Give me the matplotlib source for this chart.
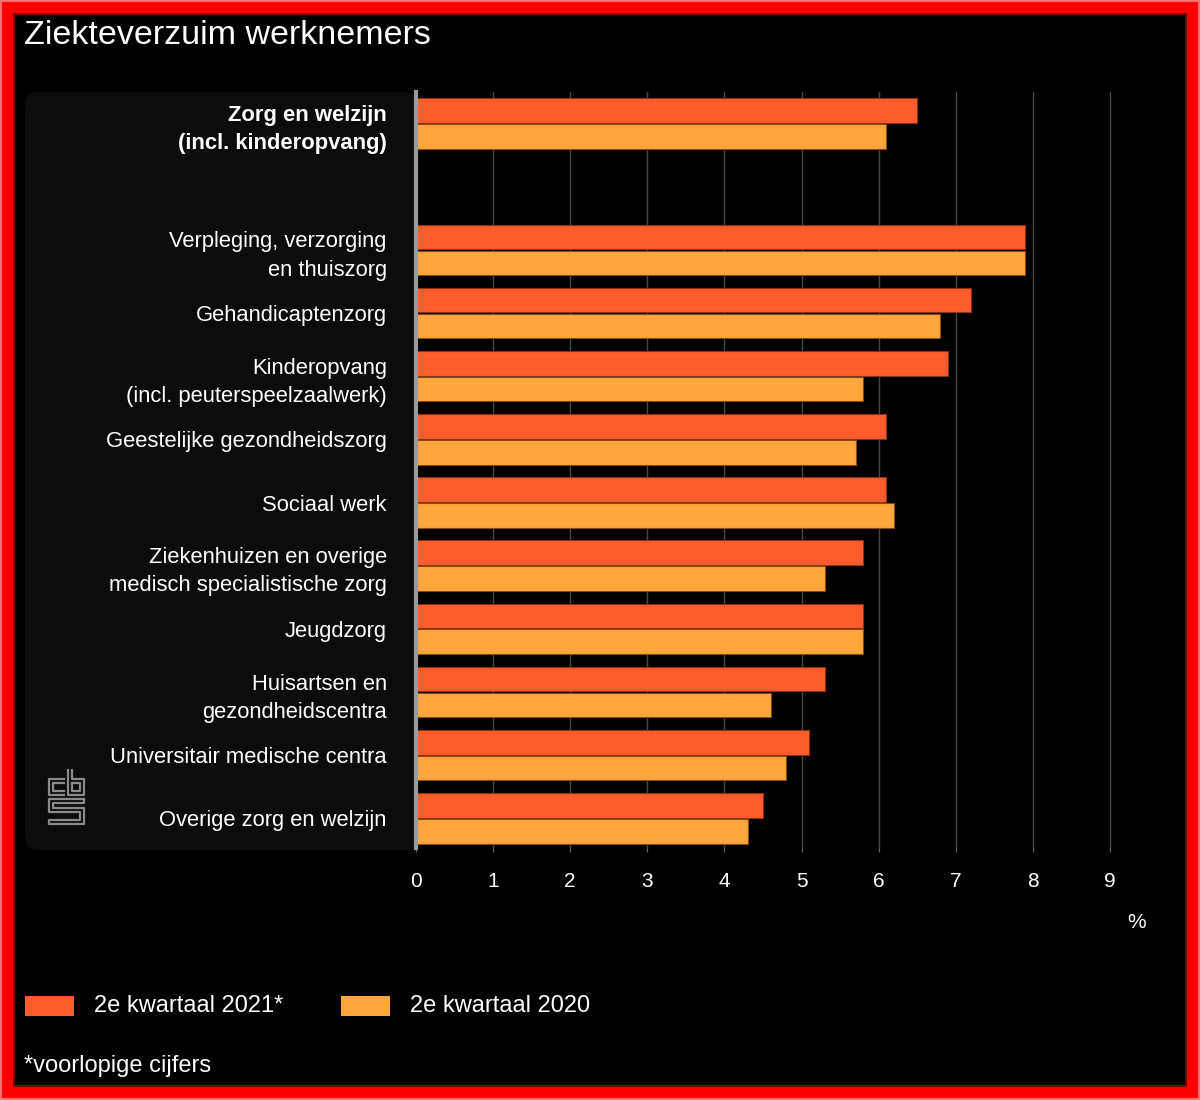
import matplotlib.pyplot as plt
from matplotlib.patches import FancyBboxPatch, Rectangle
from matplotlib.lines import Line2D
import numpy as np

# Data
Categories = ['Zorg en welzijn\n(incl. kinderopvang)',
              'Verpleging, verzorging\nen thuiszorg',
              'Gehandicaptenzorg',
              'Kinderopvang\n(incl. peuterspeelzaalwerk)',
              'Geestelijke gezondheidszorg',
              'Sociaal werk',
              'Ziekenhuizen en overige\nmedisch specialistische zorg',
              'Jeugdzorg',
              'Huisartsen en\ngezondheidscentra',
              'Universitair medische centra',
              'Overige zorg en welzijn']
Q2_2021 = [6.5, 7.9, 7.2, 6.9, 6.1, 6.1, 5.8, 5.8, 5.3, 5.1, 4.5]
Q2_2020 = [6.1, 7.9, 6.8, 5.8, 5.7, 6.2, 5.3, 5.8, 4.6, 4.8, 4.3]
SeriesLabels = ['2e kwartaal 2021*', '2e kwartaal 2020']
XTicks = list(range(0, 10))

Col2021 = '#FF5C2E'
Col2020 = '#FFA73F'
FONT = ['Liberation Sans', 'DejaVu Sans']

W, H = 1200, 1100
fig = plt.figure(figsize=(12, 11), dpi=100, facecolor='black')


def px(x, y):
    return x / W, 1 - y / H


# red frame
fig.patches.append(Rectangle((0, 0), 1, 1, transform=fig.transFigure, facecolor='#ff0000',
                             edgecolor='#ff7070', linewidth=3, zorder=-10))
fig.patches.append(Rectangle(px(14, 1086), 1172 / W, 1072 / H, transform=fig.transFigure,
                             facecolor='black', edgecolor='#7a0000', linewidth=1.5, zorder=-9))

# dark panel behind labels
x0, y0 = px(25, 850)
fig.patches.append(FancyBboxPatch((x0, y0), 392 / W, 758 / H, transform=fig.transFigure,
                                  boxstyle='round,pad=0,rounding_size=0.012',
                                  facecolor='#0c0c0c', edgecolor='none', zorder=-5))

# cbs logo (decoration)
logo = [
    [(64, 779), (49, 779), (49, 795), (64, 795)],
    [(64, 783), (53, 783), (53, 791), (64, 791)],
    [(68, 770), (68, 795), (84, 795), (84, 779), (72, 779), (72, 770)],
    [(72, 783), (80, 783), (80, 791), (72, 791), (72, 783)],
    [(84, 799), (49, 799), (49, 812), (80, 812), (80, 820), (49, 820), (49, 824), (84, 824),
     (84, 808), (53, 808), (53, 803), (84, 803), (84, 799)],
]
for path in logo:
    xs = [p[0] / W for p in path]
    ys = [1 - p[1] / H for p in path]
    fig.lines.append(Line2D(xs, ys, transform=fig.transFigure, color='#8a8a8a', linewidth=1.6))

ax = fig.add_axes([416 / W, 1 - 848 / H, (1110 - 416) / W, (848 - 92) / H])
ax.set_facecolor('none')

Pos = np.array([0] + list(range(2, 12)), dtype=float)
h = 0.39
ax.barh(Pos - 0.205, Q2_2021, height=h, color=Col2021, edgecolor='#8a3510', linewidth=0.8, zorder=3)
ax.barh(Pos + 0.205, Q2_2020, height=h, color=Col2020, edgecolor='#8a4a10', linewidth=0.8, zorder=3)

ax.set_xlim(0, 9)
ax.set_ylim(11.47, -0.5)
ax.set_xticks(XTicks)
ax.set_xticklabels([str(t) for t in XTicks], color='white', fontsize=15, family=FONT)
ax.tick_params(axis='x', length=3, color='#666666', pad=14)
ax.grid(axis='x', color='#484848', linewidth=1, zorder=0)
for gl in ax.get_xgridlines():
    gl.set_clip_on(False)

ax.set_yticks(Pos)
ax.set_yticklabels(Categories, color='white', fontsize=15.8, family=FONT, linespacing=1.45)
ax.tick_params(axis='y', length=0, pad=21)
ax.get_yticklabels()[0].set_fontweight('bold')

for s in ['top', 'right', 'bottom']:
    ax.spines[s].set_visible(False)
ax.spines['left'].set_color('#9a9a9a')
ax.spines['left'].set_linewidth(3)
ax.spines['left'].set_zorder(5)

# title and texts
fig.text(*px(24, 36), 'Ziekteverzuim werknemers', color='white', fontsize=24.5, family=FONT,
         va='center', ha='left')
fig.text(*px(1137, 922), '%', color='white', fontsize=15, family=FONT, va='center', ha='center')

# legend
for xp, col, lab, xt in [(25, Col2021, SeriesLabels[0], 94), (341, Col2020, SeriesLabels[1], 410)]:
    fig.patches.append(Rectangle(px(xp, 1016), 49 / W, 20 / H, transform=fig.transFigure,
                                 facecolor=col, edgecolor='none'))
    fig.text(*px(xt, 1006), lab, color='white', fontsize=17, family=FONT, va='center', ha='left')

fig.text(*px(24, 1066), '*voorlopige cijfers', color='white', fontsize=17, family=FONT,
         va='center', ha='left')

plt.savefig('out.png', dpi=100, facecolor='black')
